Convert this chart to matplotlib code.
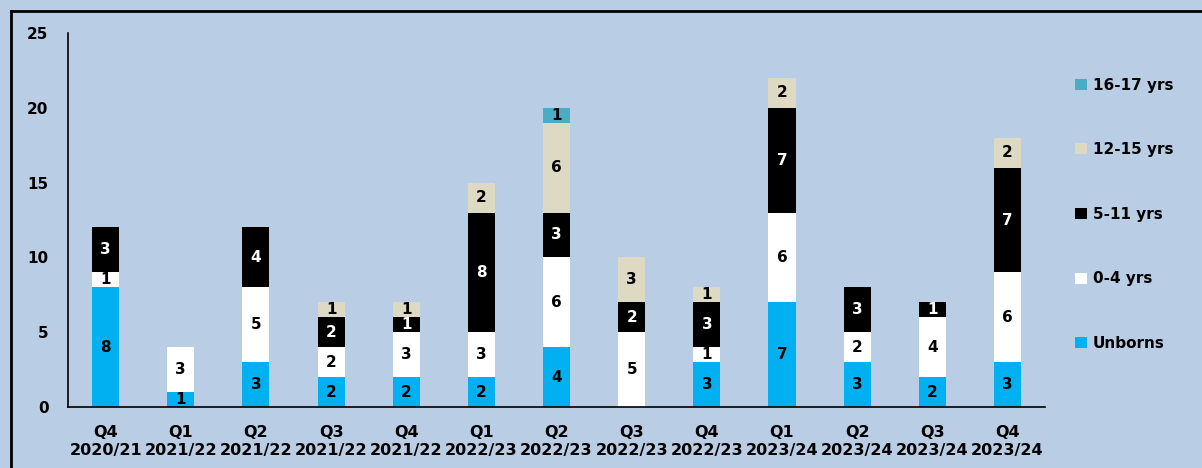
import matplotlib.pyplot as plt
from matplotlib.lines import Line2D
import numpy as np

# Quarter labels
quarters = ["Q4", "Q1", "Q2", "Q3", "Q4", "Q1", "Q2", "Q3", "Q4", "Q1", "Q2", "Q3", "Q4"]
years = ["2020/21", "2021/22", "2021/22", "2021/22", "2021/22", "2022/23", "2022/23",
         "2022/23", "2022/23", "2023/24", "2023/24", "2023/24", "2023/24"]

# Counts per age group
unborns = [8, 1, 3, 2, 2, 2, 4, 0, 3, 7, 3, 2, 3]
age_0_4 = [1, 3, 5, 2, 3, 3, 6, 5, 1, 6, 2, 4, 6]
age_5_11 = [3, 0, 4, 2, 1, 8, 3, 2, 3, 7, 3, 1, 7]
age_12_15 = [0, 0, 0, 1, 1, 2, 6, 3, 1, 2, 0, 0, 2]
age_16_17 = [0, 0, 0, 0, 0, 0, 1, 0, 0, 0, 0, 0, 0]

series = [
    ("Unborns", unborns, "#00b0f0", "black"),
    ("0-4 yrs", age_0_4, "#ffffff", "black"),
    ("5-11 yrs", age_5_11, "#000000", "white"),
    ("12-15 yrs", age_12_15, "#ddd9c3", "black"),
    ("16-17 yrs", age_16_17, "#4bacc6", "black"),
]

bg = "#b9cde4"
fig = plt.figure(figsize=(12.02, 4.68), dpi=100, facecolor=bg)
ax = fig.add_axes([0.0566, 0.1303, 0.8128, 0.7992])
ax.set_facecolor(bg)

x = np.arange(len(quarters))
bottom = np.zeros(len(quarters))
handles = []
for name, vals, color, txt_color in series:
    vals = np.array(vals)
    bars = ax.bar(x, vals, width=0.36, bottom=bottom, color=color, label=name)
    handles.append(bars)
    for xi, b, v in zip(x, bottom, vals):
        if v > 0:
            ax.text(xi, b + v / 2, str(v), ha="center", va="center",
                    color=txt_color, fontsize=11, fontweight="bold")
    bottom += vals

ax.set_xlim(-0.5, 12.5)
ax.set_ylim(0, 25)
ax.set_yticks([0, 5, 10, 15, 20, 25])
ax.set_xticks(x)
ax.set_xticklabels([f"{q}\n{y}" for q, y in zip(quarters, years)],
                   fontsize=11.5, fontweight="bold", linespacing=1.25)
for lbl in ax.get_yticklabels():
    lbl.set_fontweight("bold")
    lbl.set_fontsize(11)
ax.tick_params(axis="y", length=0, pad=14)
ax.tick_params(axis="x", length=0, pad=13)

for side in ["top", "right"]:
    ax.spines[side].set_visible(False)
ax.spines["left"].set_linewidth(1.2)
ax.spines["bottom"].set_linewidth(1.2)

leg = fig.legend(handles[::-1], [s[0] for s in series][::-1],
                 loc="center left", bbox_to_anchor=(0.883, 0.542),
                 frameon=False, handlelength=0.75, handleheight=0.75,
                 handletextpad=0.4, labelspacing=3.25,
                 prop={"weight": "bold", "size": 11})

# Outer frame lines on the left and top
fig.add_artist(Line2D([11 / 1202, 11 / 1202], [0, 1 - 11 / 468], color="black", lw=2,
                      transform=fig.transFigure))
fig.add_artist(Line2D([11 / 1202, 1], [1 - 11 / 468, 1 - 11 / 468], color="black", lw=2,
                      transform=fig.transFigure))

fig.savefig("out.png", dpi=100, facecolor=bg)
